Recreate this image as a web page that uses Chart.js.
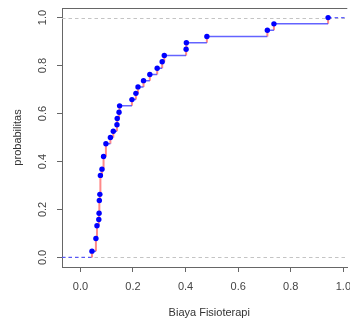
<!DOCTYPE html>
<html><head><meta charset="utf-8">
<script src="https://cdn.jsdelivr.net/npm/chart.js@4.4.0/dist/chart.umd.min.js"></script>
<style>html,body{margin:0;padding:0;background:#fff;overflow:hidden}#wrap{width:350px;height:322px}</style>
</head><body><div id="wrap"><canvas id="c" width="350" height="322"></canvas></div>
<script>
// ECDF knots
const xValues = [0.044, 0.059, 0.063, 0.070, 0.071, 0.072, 0.074, 0.076, 0.082, 0.088, 0.097, 0.114, 0.125, 0.139, 0.140, 0.147, 0.149, 0.196, 0.211, 0.219, 0.240, 0.264, 0.292, 0.311, 0.319, 0.402, 0.403, 0.481, 0.711, 0.736, 0.942];
const probValues = [0.026, 0.079, 0.132, 0.158, 0.184, 0.237, 0.263, 0.342, 0.368, 0.421, 0.474, 0.500, 0.526, 0.553, 0.579, 0.605, 0.632, 0.658, 0.684, 0.711, 0.737, 0.763, 0.789, 0.816, 0.842, 0.868, 0.895, 0.921, 0.947, 0.974, 1.000];
const xTicks = [0, 0.2, 0.4, 0.6, 0.8, 1.0];
const yTicks = [0, 0.2, 0.4, 0.6, 0.8, 1.0];
const refLines = [0, 1];
const xTitle = 'Biaya Fisioterapi';
const yTitle = 'probabilitas';

const X_MIN = -0.07, X_MAX = 1.015, Y_MIN = -0.04, Y_MAX = 1.04;
const FONT = "'Liberation Sans', Arial, sans-serif";

const pts = xValues.map((x, i) => ({x: x, y: probValues[i]}));
const hor = [];
for (let i = 0; i < xValues.length - 1; i++) {
  hor.push({x: xValues[i], y: probValues[i]}, {x: xValues[i + 1], y: probValues[i]}, {x: xValues[i + 1], y: null});
}
const ver = [];
for (let i = 0; i < xValues.length; i++) {
  ver.push({x: xValues[i], y: i ? probValues[i - 1] : 0}, {x: xValues[i], y: probValues[i]}, {x: xValues[i], y: null});
}
const last = xValues.length - 1;
const ext = [{x: X_MIN, y: 0}, {x: xValues[0], y: 0}, {x: xValues[0], y: null},
             {x: xValues[last], y: probValues[last]}, {x: X_MAX, y: probValues[last]}];

const framePlugin = {
  id: 'frame',
  beforeDatasetsDraw(chart) {
    const {ctx, chartArea: a, scales} = chart;
    ctx.save();
    ctx.strokeStyle = '#c4c4c4';
    ctx.lineWidth = 1;
    ctx.setLineDash([3.5, 3]);
    refLines.forEach(v => {
      const y = Math.round(scales.y.getPixelForValue(v)) + 0.5;
      ctx.beginPath(); ctx.moveTo(a.left, y); ctx.lineTo(a.right, y); ctx.stroke();
    });
    ctx.restore();
  },
  afterDraw(chart) {
    const {ctx, chartArea: a, scales} = chart;
    ctx.save();
    ctx.strokeStyle = '#666';
    ctx.lineWidth = 1;
    ctx.beginPath(); ctx.moveTo(a.left, a.top + 0.5); ctx.lineTo(a.right, a.top + 0.5); ctx.stroke();
    ctx.fillStyle = '#333';
    ctx.font = '11px ' + FONT;
    ctx.textAlign = 'center';
    ctx.textBaseline = 'middle';
    ctx.fillText(xTitle, scales.x.getPixelForValue(0.49), 313);
    ctx.restore();
  }
};

new Chart(document.getElementById('c'), {
  type: 'scatter',
  data: {
    datasets: [
      {data: pts, pointRadius: 2.7, pointHoverRadius: 2.7, pointBackgroundColor: '#0000ff', pointBorderColor: '#0000ff', borderWidth: 0, showLine: false},
      {data: hor, showLine: true, pointRadius: 0, borderColor: 'rgba(60,60,255,0.8)', borderWidth: 1.5},
      {data: ver, showLine: true, pointRadius: 0, borderColor: 'rgba(255,40,40,0.55)', borderWidth: 2},
      {data: ext, showLine: true, pointRadius: 0, borderColor: 'rgba(60,60,255,0.8)', borderWidth: 1.2, borderDash: [3.5, 3]}
    ]
  },
  options: {
    responsive: false,
    animation: false,
    devicePixelRatio: 1,
    layout: {padding: {top: 8, left: 0, right: 0, bottom: 0}},
    plugins: {legend: {display: false}, tooltip: {enabled: false}},
    scales: {
      x: {
        type: 'linear', min: X_MIN, max: X_MAX,
        afterBuildTicks: s => { s.ticks = xTicks.map(v => ({value: v})); },
        afterFit: s => { s.height = 55; s.paddingLeft = 0; s.paddingRight = 0; },
        grid: {display: true, drawOnChartArea: false, drawTicks: true, tickLength: 5, color: '#666'},
        border: {display: true, color: '#666', width: 1},
        ticks: {autoSkip: false, maxRotation: 0, padding: 8, color: '#444', font: {family: FONT, size: 11},
                callback: v => v.toFixed(1)}
      },
      y: {
        type: 'linear', min: Y_MIN, max: Y_MAX,
        afterBuildTicks: s => { s.ticks = yTicks.map(v => ({value: v})); },
        afterFit: s => { s.width = 62; s.paddingTop = 0; s.paddingBottom = 0; },
        grid: {display: true, drawOnChartArea: false, drawTicks: true, tickLength: 5, color: '#666'},
        border: {display: true, color: '#666', width: 1},
        ticks: {autoSkip: false, minRotation: 90, maxRotation: 90, crossAlign: 'center', padding: 6,
                color: '#444', font: {family: FONT, size: 11}, callback: v => v.toFixed(1)},
        title: {display: true, text: yTitle, color: '#333', font: {family: FONT, size: 11}, padding: {top: 11, bottom: 0}}
      }
    }
  },
  plugins: [framePlugin]
});
</script></body></html>
